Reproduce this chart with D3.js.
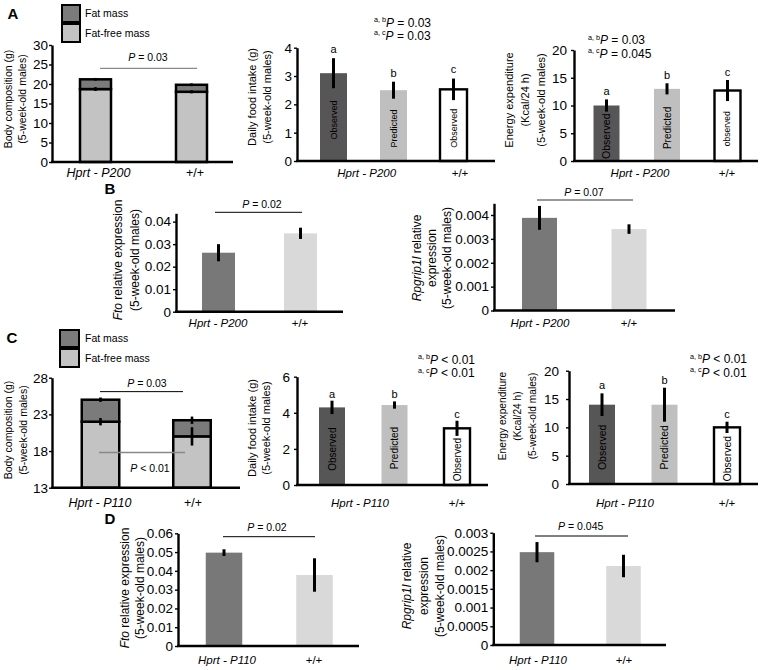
<!DOCTYPE html>
<html><head><meta charset="utf-8">
<script src="https://cdn.jsdelivr.net/npm/d3@7"></script>
<style>
body{margin:0;background:#fff;}
svg text{font-family:"Liberation Sans",Arial,Helvetica,sans-serif;fill:#000;}
</style></head><body>
<svg id="fig" width="762" height="670"></svg>
<script>
// ================= DATA =================
const groupsP200 = ["Hprt - P200", "+/+"];
const groupsP110 = ["Hprt - P110", "+/+"];
const compLegend = ["Fat mass", "Fat-free mass"];
const barKinds = ["Observed", "Predicted", "Observed"];
const barLetters = ["a", "b", "c"];

// Panel A – body composition (g)
const compA_fatFree = [18.7, 18.0];
const compA_fatFreeErr = [0.5, 0.4];
const compA_total = [21.2, 19.8];
const compA_totalErr = [0.35, 0.35];
const compA_ticks = [0, 5, 10, 15, 20, 25, 30];
const compA_p = " = 0.03";

// Panel A – daily food intake (g)
const intakeA = [3.1, 2.5, 2.53];
const intakeA_err = [0.53, 0.3, 0.38];
const intakeA_ticks = [0, 1, 2, 3, 4];
const intakeA_stats = [["a, b", " = 0.03"], ["a, c", " = 0.03"]];

// Panel A – energy expenditure (Kcal/24 h)
const energyA = [10.0, 13.0, 12.7];
const energyA_err = [1.1, 1.0, 1.9];
const energyA_ticks = [0, 5, 10, 15, 20];
const energyA_labels = ["Observed", "Predicted", "observed"];
const energyA_stats = [["a, b", " = 0.03"], ["a, c", " = 0.045"]];

// Panel B – Fto relative expression
const ftoB = [0.0262, 0.0348];
const ftoB_err = [0.0038, 0.0025];
const ftoB_ticks = [0, 0.01, 0.02, 0.03, 0.04];
const ftoB_max = 0.0437;
const ftoB_p = " = 0.02";

// Panel B – Rpgrip1l relative expression
const rpgB = [0.00388, 0.00341];
const rpgB_err = [0.0005, 0.0002];
const rpgB_ticks = [0, 0.001, 0.002, 0.003, 0.004];
const rpgB_max = 0.00449;
const rpgB_p = " = 0.07";

// Panel C – body composition (g)
const compC_fatFree = [22.0, 20.0];
const compC_fatFreeErr = [0.5, 1.25];
const compC_total = [25.0, 22.2];
const compC_totalErr = [0.3, 0.5];
const compC_ticks = [13, 18, 23, 28];
const compC_p = [" = 0.03", " < 0.01"];

// Panel C – daily food intake (g)
const intakeC = [4.3, 4.43, 3.14];
const intakeC_err = [0.37, 0.2, 0.42];
const intakeC_ticks = [0, 2, 4, 6];
const intakeC_stats = [["a, b", " < 0.01"], ["a, c", " < 0.01"]];

// Panel C – energy expenditure (Kcal/24 h)
const energyC = [14.0, 14.0, 10.0];
const energyC_err = [2.0, 3.0, 1.0];
const energyC_ticks = [0, 5, 10, 15, 20];
const energyC_stats = [["a, b", " < 0.01"], ["a, c", " < 0.01"]];

// Panel D – Fto relative expression
const ftoD = [0.0497, 0.0378];
const ftoD_err = [0.0018, 0.0089];
const ftoD_ticks = [0, 0.01, 0.02, 0.03, 0.04, 0.05, 0.06];
const ftoD_p = " = 0.02";

// Panel D – Rpgrip1l relative expression
const rpgD = [0.00248, 0.00211];
const rpgD_err = [0.00027, 0.0003];
const rpgD_ticks = [0, 0.0005, 0.001, 0.0015, 0.002, 0.0025, 0.003];
const rpgD_p = " = 0.045";

// ================= DRAWING =================
const svg = d3.select("#fig");

function label(g, cx, cy, segs, o = {}) {
  const size = o.size || 11;
  const t = g.append("text")
    .attr("font-size", size)
    .attr("text-anchor", o.anchor || "middle");
  if (o.rotate) {
    t.attr("transform", `translate(${cx},${cy}) rotate(-90)`).attr("x", 0).attr("y", size * 0.35);
  } else {
    t.attr("x", cx).attr("y", cy + size * 0.35);
  }
  if (o.bold) t.attr("font-weight", "bold");
  (Array.isArray(segs) ? segs : [{ t: segs }]).forEach(s => {
    const sp = t.append("tspan").text(s.t);
    if (s.i) sp.attr("font-style", "italic");
  });
  return t;
}

function pText(g, cx, cy, rest, size) {
  return label(g, cx, cy, [{ t: "P", i: true }, { t: rest }], { size });
}

function statText(g, x, cy, sup, rest, size) {
  const base = cy + size * 0.35;
  const t = g.append("text").attr("x", x).attr("y", base).attr("font-size", size).attr("text-anchor", "start");
  t.append("tspan").attr("font-size", size * 0.6).attr("dy", -size * 0.38).text(sup);
  t.append("tspan").attr("font-style", "italic").attr("dy", size * 0.38).text("P");
  t.append("tspan").text(rest);
}

function drawYAxis(g, y, cfg) {
  const ax = g.append("g").attr("transform", `translate(${cfg.ax},0)`)
    .call(d3.axisLeft(y).tickValues(cfg.ticks).tickSize(3).tickSizeOuter(0)
      .tickPadding(cfg.tickPad == null ? 2 : cfg.tickPad).tickFormat(d => String(d)));
  ax.select(".domain").attr("stroke", "#000").attr("stroke-width", 2.4);
  ax.selectAll(".tick line").attr("stroke", "#000").attr("stroke-width", 1.4);
  ax.selectAll(".tick text").attr("font-size", cfg.tickSize || 13.5)
    .attr("font-family", '"Liberation Sans",Arial,sans-serif').attr("fill", "#000");
  g.append("line").attr("x1", cfg.ax - 1).attr("x2", cfg.xEnd)
    .attr("y1", y(cfg.domain[0])).attr("y2", y(cfg.domain[0]))
    .attr("stroke", "#000").attr("stroke-width", 2.6);
}

function yLabels(g, cfg) {
  cfg.ylab.forEach((segs, i) => label(g, cfg.ylabX[i], cfg.ylabY, segs, { rotate: true, size: cfg.ylabSize }));
}

function xLabels(g, groups, cfg) {
  groups.forEach((s, i) => label(g, cfg.xlabX[i], cfg.xlabY, [{ t: s, i: i === 0 }], { size: cfg.xlabSize || 11.5 }));
}

function errBars(g, x, y, vals, errs, w) {
  g.selectAll(null).data(vals).join("line")
    .attr("x1", (d, i) => x(i)).attr("x2", (d, i) => x(i))
    .attr("y1", (d, i) => y(d - errs[i])).attr("y2", (d, i) => y(d + errs[i]))
    .attr("stroke", "#000").attr("stroke-width", w || 3);
}

// body composition stacked panel
function compPanel(cfg) {
  const g = svg.append("g");
  const y = d3.scaleLinear().domain(cfg.domain).range([cfg.yBot, cfg.yTop]);
  const x = d3.scalePoint().domain(d3.range(cfg.fatFree.length)).range(cfg.centers);
  const base = y(cfg.domain[0]);
  g.selectAll(null).data(cfg.fatFree).join("rect")
    .attr("x", (d, i) => x(i) - cfg.barW / 2).attr("width", cfg.barW)
    .attr("y", d => y(d)).attr("height", d => base - y(d))
    .attr("fill", "#c3c3c3").attr("stroke", "#000").attr("stroke-width", 2.5);
  g.selectAll(null).data(cfg.total).join("rect")
    .attr("x", (d, i) => x(i) - cfg.barW / 2).attr("width", cfg.barW)
    .attr("y", d => y(d)).attr("height", (d, i) => y(cfg.fatFree[i]) - y(d))
    .attr("fill", "#7b7b7b").attr("stroke", "#000").attr("stroke-width", 2.5);
  errBars(g, x, y, cfg.fatFree, cfg.fatFreeErr, 2.6);
  errBars(g, x, y, cfg.total, cfg.totalErr, 2.6);
  drawYAxis(g, y, cfg);
  yLabels(g, cfg);
  xLabels(g, cfg.groups, cfg);
  // legend
  const lf = ["#7b7b7b", "#c3c3c3"];
  compLegend.forEach((s, i) => {
    const L = cfg.legend[i];
    g.append("rect").attr("x", L[0]).attr("y", L[1]).attr("width", L[2]).attr("height", L[3])
      .attr("fill", lf[i]).attr("stroke", "#000").attr("stroke-width", 2);
    label(g, cfg.legendTextX, L[1] + L[3] / 2, s, { anchor: "start", size: 10.5 });
  });
  // significance lines
  cfg.pLines.forEach(p => {
    g.append("line").attr("x1", p.x1).attr("x2", p.x2).attr("y1", y(p.v)).attr("y2", y(p.v))
      .attr("stroke", p.color).attr("stroke-width", p.w);
    pText(g, p.tx, p.ty, p.text, 10.5);
  });
  label(g, cfg.letter[1], cfg.letter[2], cfg.letter[0], { bold: true, size: 15 });
}

// three-bar observed/predicted panel
function triPanel(cfg) {
  const g = svg.append("g");
  const y = d3.scaleLinear().domain(cfg.domain).range([cfg.yBot, cfg.yTop]);
  const x = d3.scalePoint().domain(d3.range(cfg.values.length)).range(cfg.centers);
  const base = y(cfg.domain[0]);
  const fills = ["#565656", "#bfbfbf", "#ffffff"];
  g.selectAll(null).data(cfg.values).join("rect")
    .attr("x", (d, i) => x(i) - cfg.barW / 2).attr("width", cfg.barW)
    .attr("y", d => y(d)).attr("height", d => base - y(d))
    .attr("fill", (d, i) => fills[i])
    .attr("stroke", (d, i) => i === 2 ? "#000" : "none").attr("stroke-width", 2.4);
  cfg.barText.forEach((s, i) => {
    const cy = (y(cfg.values[i]) + base) / 2 + 3;
    label(g, x(i), cy, s, { rotate: true, size: cfg.barTextSize[i] });
  });
  drawYAxis(g, y, cfg);
  errBars(g, x, y, cfg.values, cfg.errs, 3);
  barLetters.forEach((s, i) => label(g, x(i), y(cfg.values[i] + cfg.errs[i]) - cfg.letterGap, s, { size: 11 }));
  yLabels(g, cfg);
  xLabels(g, cfg.groups, cfg);
  cfg.stats.forEach((s, i) => statText(g, cfg.statX, cfg.statY[i], s[0], s[1], 12));
}

// two-bar expression panel
function duoPanel(cfg) {
  const g = svg.append("g");
  const y = d3.scaleLinear().domain(cfg.domain).range([cfg.yBot, cfg.yTop]);
  const x = d3.scalePoint().domain(d3.range(cfg.values.length)).range(cfg.centers);
  const base = y(cfg.domain[0]);
  const fills = ["#787878", "#d9d9d9"];
  g.selectAll(null).data(cfg.values).join("rect")
    .attr("x", (d, i) => x(i) - cfg.barW / 2).attr("width", cfg.barW)
    .attr("y", d => y(d)).attr("height", d => base - y(d))
    .attr("fill", (d, i) => fills[i]);
  drawYAxis(g, y, cfg);
  errBars(g, x, y, cfg.values, cfg.errs, 3);
  yLabels(g, cfg);
  xLabels(g, cfg.groups, cfg);
  const p = cfg.pLine;
  g.append("line").attr("x1", p.x1).attr("x2", p.x2).attr("y1", p.y).attr("y2", p.y)
    .attr("stroke", p.color).attr("stroke-width", p.w);
  pText(g, p.tx, p.ty, cfg.pText, 10.5);
  if (cfg.letter) label(g, cfg.letter[1], cfg.letter[2], cfg.letter[0], { bold: true, size: 15 });
}

const ylComp = [[{ t: "Body composition (g)" }], [{ t: "(5-week-old males)" }]];
const ylIntake = [[{ t: "Daily food intake (g)" }], [{ t: "(5-week-old males)" }]];
const ylEnergy = [[{ t: "Energy expenditure" }], [{ t: "(Kcal/24 h)" }], [{ t: "(5-week-old males)" }]];
const ylFto = [[{ t: "Fto", i: true }, { t: " relative expression" }], [{ t: "(5-week-old males)" }]];
const ylRpg = [[{ t: "Rpgrip1l", i: true }, { t: " relative" }], [{ t: "expression" }], [{ t: "(5-week-old males)" }]];

// ---------- A ----------
compPanel({
  fatFree: compA_fatFree, fatFreeErr: compA_fatFreeErr, total: compA_total, totalErr: compA_totalErr,
  domain: [0, 30], ticks: compA_ticks, ax: 52, xEnd: 233, yTop: 45, yBot: 162,
  centers: [95.5, 191.5], barW: 31, tickSize: 13.5, tickPad: 1,
  ylab: ylComp, ylabX: [8, 22], ylabY: 99, ylabSize: 10.5,
  groups: groupsP200, xlabX: [98.5, 195], xlabY: 173, xlabSize: 12.5,
  legend: [[62, 5, 18, 17], [62, 24, 18, 18]], legendTextX: 85,
  pLines: [{ v: 24, x1: 100, x2: 197, color: "#8a8a8a", w: 1.2, tx: 148, ty: 57, text: compA_p }],
  letter: ["A", 13, 14]
});
triPanel({
  values: intakeA, errs: intakeA_err, domain: [0, 4], ticks: intakeA_ticks,
  ax: 297, xEnd: 495, yTop: 47.7, yBot: 161, centers: [333.5, 453.5], barW: 27,
  barText: barKinds, barTextSize: [9, 9, 9], letterGap: 9,
  ylab: ylIntake, ylabX: [252, 267], ylabY: 97, ylabSize: 11,
  groups: groupsP200, xlabX: [366.7, 460], xlabY: 173,
  stats: intakeA_stats, statX: 374, statY: [22.5, 35.5]
});
triPanel({
  values: energyA, errs: energyA_err, domain: [0, 20], ticks: energyA_ticks,
  ax: 574, xEnd: 758, yTop: 50, yBot: 161, centers: [606.5, 727.5], barW: 26, tickPad: 4,
  barText: energyA_labels, barTextSize: [10.5, 10, 8.5], letterGap: 8,
  ylab: ylEnergy, ylabX: [509, 525, 541], ylabY: 100, ylabSize: 11,
  groups: groupsP200, xlabX: [640, 727], xlabY: 173,
  stats: energyA_stats, statX: 588, statY: [40, 53.5]
});

// ---------- B ----------
duoPanel({
  values: ftoB, errs: ftoB_err, domain: [0, ftoB_max], ticks: ftoB_ticks,
  ax: 176, xEnd: 343, yTop: 213.3, yBot: 311.7, centers: [218.5, 300.5], barW: 33,
  ylab: ylFto, ylabX: [118, 135], ylabY: 260, ylabSize: 12,
  groups: groupsP200, xlabX: [218, 300], xlabY: 323,
  pLine: { x1: 215, x2: 302, y: 212.3, color: "#000", w: 1, tx: 262, ty: 204.3 }, pText: ftoB_p,
  letter: ["B", 110, 189]
});
duoPanel({
  values: rpgB, errs: rpgB_err, domain: [0, rpgB_max], ticks: rpgB_ticks,
  ax: 494, xEnd: 675, yTop: 203.3, yBot: 310.5, centers: [539.5, 629], barW: 35,
  ylab: ylRpg, ylabX: [417, 432, 447], ylabY: 258, ylabSize: 12,
  groups: groupsP200, xlabX: [540, 629], xlabY: 323,
  pLine: { x1: 537, x2: 633, y: 200, color: "#999", w: 2, tx: 584, ty: 192 }, pText: rpgB_p
});

// ---------- C ----------
compPanel({
  fatFree: compC_fatFree, fatFreeErr: compC_fatFreeErr, total: compC_total, totalErr: compC_totalErr,
  domain: [13, 28], ticks: compC_ticks, ax: 52, xEnd: 240, yTop: 377.7, yBot: 487.7,
  centers: [100.5, 192], barW: 37.5, tickSize: 13.5, tickPad: 1,
  ylab: ylComp, ylabX: [8, 23], ylabY: 430, ylabSize: 10.5,
  groups: groupsP110, xlabX: [100, 193], xlabY: 503, xlabSize: 12.5,
  legend: [[60, 330, 19, 17], [60, 349, 19, 18]], legendTextX: 85,
  pLines: [
    { v: 26.1, x1: 100, x2: 183, color: "#000", w: 1, tx: 147, ty: 383, text: compC_p[0] },
    { v: 17.8, x1: 99, x2: 185, color: "#888", w: 1.6, tx: 150, ty: 468, text: compC_p[1] }
  ],
  letter: ["C", 12, 338]
});
triPanel({
  values: intakeC, errs: intakeC_err, domain: [0, 6], ticks: intakeC_ticks,
  ax: 297, xEnd: 488, yTop: 376.7, yBot: 485, centers: [332, 457], barW: 26, tickPad: 4,
  barText: barKinds, barTextSize: [10, 10, 10], letterGap: 7,
  ylab: ylIntake, ylabX: [252, 266], ylabY: 428, ylabSize: 11,
  groups: groupsP110, xlabX: [360, 457], xlabY: 503,
  stats: intakeC_stats, statX: 418, statY: [359.5, 373]
});
triPanel({
  values: energyC, errs: energyC_err, domain: [0, 20], ticks: energyC_ticks,
  ax: 569, xEnd: 758, yTop: 370.7, yBot: 484, centers: [602, 727], barW: 26, tickPad: 7,
  barText: barKinds, barTextSize: [10.5, 10.5, 10.5], letterGap: 8,
  ylab: ylEnergy, ylabX: [502, 517, 532], ylabY: 416, ylabSize: 10.2,
  groups: groupsP110, xlabX: [625, 727], xlabY: 503,
  stats: energyC_stats, statX: 690, statY: [359, 372.5]
});

// ---------- D ----------
duoPanel({
  values: ftoD, errs: ftoD_err, domain: [0, 0.06], ticks: ftoD_ticks,
  ax: 178, xEnd: 359, yTop: 533.3, yBot: 646, centers: [224, 314.5], barW: 36.5,
  ylab: ylFto, ylabX: [125, 140], ylabY: 588, ylabSize: 12,
  groups: groupsP110, xlabX: [227, 314], xlabY: 660,
  pLine: { x1: 223, x2: 315, y: 536.7, color: "#000", w: 1, tx: 267, ty: 527.3 }, pText: ftoD_p,
  letter: ["D", 110, 519]
});
duoPanel({
  values: rpgD, errs: rpgD_err, domain: [0, 0.003], ticks: rpgD_ticks,
  ax: 493.3, xEnd: 666, yTop: 532.7, yBot: 645, centers: [537, 623.5], barW: 34.5,
  ylab: ylRpg, ylabX: [407, 424, 440], ylabY: 586, ylabSize: 12,
  groups: groupsP110, xlabX: [538, 624], xlabY: 660,
  pLine: { x1: 535, x2: 628, y: 536, color: "#000", w: 1, tx: 580.7, ty: 526.7 }, pText: rpgD_p
});
</script>
</body></html>
